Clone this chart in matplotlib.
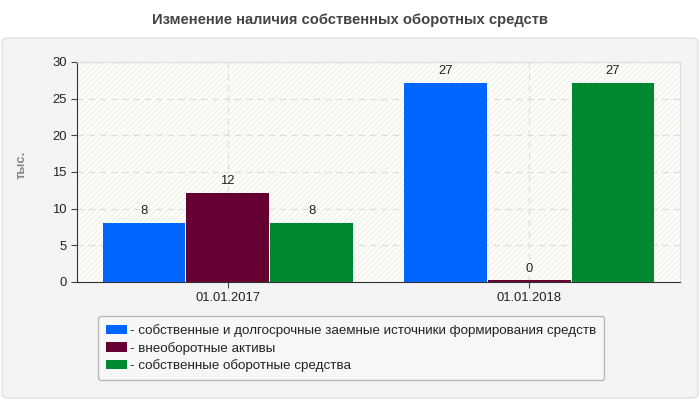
import matplotlib.pyplot as plt
import numpy as np
from matplotlib.patches import FancyBboxPatch

plt.rcParams['font.family'] = ['Liberation Sans', 'DejaVu Sans']

categories = ['01.01.2017', '01.01.2018']
series_names = [
    '- собственные и долгосрочные заемные источники формирования средств',
    '- внеоборотные активы',
    '- собственные оборотные средства',
]
own_long_term = [8.1, 27.2]
non_current = [12.2, 0.25]
working_capital = [8.1, 27.2]
value_labels = [['8', '27'], ['12', '0'], ['8', '27']]
colors = ['#0066ff', '#660033', '#008830']

W, H = 700, 400
fig = plt.figure(figsize=(W / 100, H / 100), dpi=100)
fig.patch.set_facecolor('white')

# outer grey panel, kept behind the axes
panel = FancyBboxPatch((2 / W, 2 / H), 696 / W, 360 / H,
                       boxstyle='round,pad=0,rounding_size=0.01',
                       transform=fig.transFigure, facecolor='#f4f4f4',
                       edgecolor='#e2e2e2', linewidth=1, zorder=-5)
fig.patches.append(panel)

fig.text(0.5, 1 - 20 / H, 'Изменение наличия собственных оборотных средств',
         ha='center', va='center', fontsize=10.6, fontweight='bold', color='#444444')

ax = fig.add_axes([77 / W, 1 - 282 / H, 603 / W, 220 / H], zorder=2)
ax.set_facecolor('#fdfdf9')
ax.add_patch(plt.Rectangle((0, 0), 1, 1, transform=ax.transAxes, facecolor='none',
                           edgecolor='#f3f3ee', hatch='//////', linewidth=0, zorder=0))

x = np.arange(len(categories))
step = 0.278
for i, vals in enumerate([own_long_term, non_current, working_capital]):
    bars = ax.bar(x + (i - 1) * step, vals, step - 0.004, color=colors[i],
                  linewidth=0, zorder=3, label=series_names[i])
    for b, lab in zip(bars, value_labels[i]):
        ax.text(b.get_x() + b.get_width() / 2, b.get_height() + 0.7, lab,
                ha='center', va='bottom', fontsize=9.4, color='#222222', zorder=4)

ax.set_xlim(-0.5, 1.5)
ax.set_ylim(0, 30)
ax.set_yticks(range(0, 31, 5))
ax.set_xticks(x)
ax.set_xticklabels(categories)
ax.tick_params(labelsize=9.4, colors='#222222', length=4, color='#444444')
ax.grid(True, color='#dddddd', linestyle=(0, (5, 4)), linewidth=0.9, zorder=1)
ax.set_axisbelow(True)
for s in ['top', 'right']:
    ax.spines[s].set_color('#dddddd')
for s in ['left', 'bottom']:
    ax.spines[s].set_color('#333333')

fig.text(22 / W, 1 - 165 / H, 'тыс.', rotation=90, ha='center', va='center',
         fontsize=9.4, fontweight='bold', color='#888888')

leg = fig.legend(loc='upper left', bbox_to_anchor=(98 / W, 1 - 316 / H),
                 fontsize=9.6, frameon=True, fancybox=True, handlelength=1.6,
                 handleheight=0.7, handletextpad=0.2, labelspacing=0.35,
                 borderpad=0.6, borderaxespad=0)
leg.get_frame().set_facecolor('#f9f9f9')
leg.get_frame().set_edgecolor('#aaaaaa')
for t in leg.get_texts():
    t.set_color('#222222')

fig.savefig('out.png', dpi=100)
